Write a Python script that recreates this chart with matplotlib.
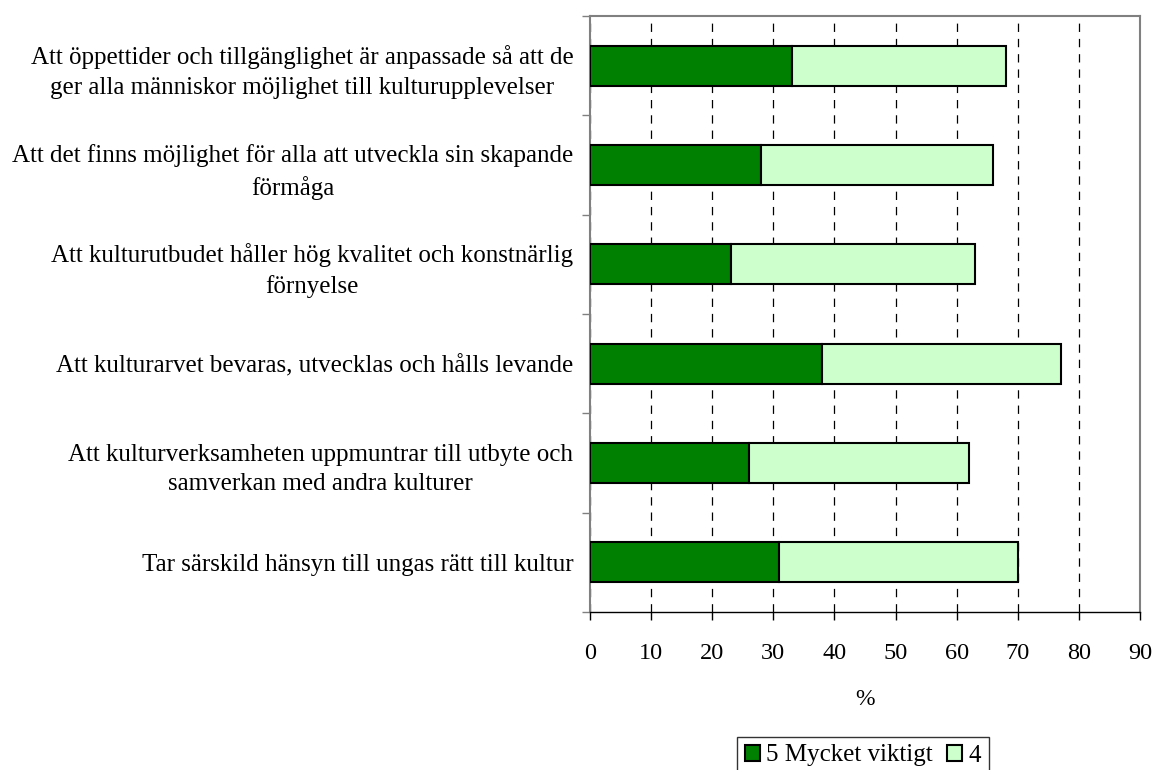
import matplotlib
matplotlib.use("Agg")
import matplotlib.pyplot as plt
import numpy as np

plt.rcParams['font.family'] = ['Liberation Serif', 'DejaVu Serif']
plt.rcParams['lines.scale_dashes'] = False

categories = [
    "Att öppettider och tillgänglighet är anpassade så att de\nger alla människor möjlighet till kulturupplevelser",
    "Att det finns möjlighet för alla att utveckla sin skapande\nförmåga",
    "Att kulturutbudet håller hög kvalitet och konstnärlig\nförnyelse",
    "Att kulturarvet bevaras, utvecklas och hålls levande",
    "Att kulturverksamheten uppmuntrar till utbyte och\nsamverkan med andra kulturer",
    "Tar särskild hänsyn till ungas rätt till kultur",
]
mycket_viktigt = [33, 28, 23, 38, 26, 31]
fyra = [35, 38, 40, 39, 36, 39]
series_labels = ["5 Mycket viktigt", "4"]

fig = plt.figure(figsize=(11.54, 7.70), dpi=100)
ax = fig.add_axes([590 / 1154, 1 - 612 / 770, 550 / 1154, 596 / 770])

y = np.arange(len(categories))
b1 = ax.barh(y, mycket_viktigt, height=0.4, color="#008000",
             edgecolor="black", linewidth=1.5, label=series_labels[0], zorder=3)
b2 = ax.barh(y, fyra, left=mycket_viktigt, height=0.4, color="#CCFFCC",
             edgecolor="black", linewidth=1.5, label=series_labels[1], zorder=3)

ax.set_xlim(0, 90)
ax.set_ylim(len(categories) - 0.5, -0.5)
ax.set_xticks(np.arange(0, 91, 10))
ax.set_yticks(y)
ax.set_yticklabels(categories, fontsize=18, multialignment="center", linespacing=1.45)
ax.set_yticks(np.arange(-0.5, len(categories), 1), minor=True)
ax.tick_params(axis="y", which="major", length=0, pad=12)
ax.tick_params(axis="y", which="minor", length=6, color="#808080", width=1)
ax.tick_params(axis="x", which="major", length=6, width=1, pad=16, labelsize=17.5)

ax.xaxis.grid(True, linestyle=(0, (6, 5)), color="black", linewidth=0.9, zorder=0)
ax.set_axisbelow(True)

for side in ["top", "right", "left"]:
    ax.spines[side].set_color("#808080")
    ax.spines[side].set_linewidth(1.5)
ax.spines["bottom"].set_color("black")
ax.spines["bottom"].set_linewidth(1)

ax.set_xlabel("%", fontsize=17, labelpad=18)

leg = fig.legend(handles=[b1, b2], labels=series_labels, loc="upper left",
                 bbox_to_anchor=(737 / 1154, 1 - 737 / 770), ncol=2,
                 frameon=True, fancybox=False, fontsize=18,
                 handlelength=0.6, handleheight=0.6, handletextpad=0.25,
                 columnspacing=0.6, borderpad=0.3, borderaxespad=0)
leg.get_frame().set_edgecolor("black")
leg.get_frame().set_linewidth(1)

fig.savefig("out.png", dpi=100)
